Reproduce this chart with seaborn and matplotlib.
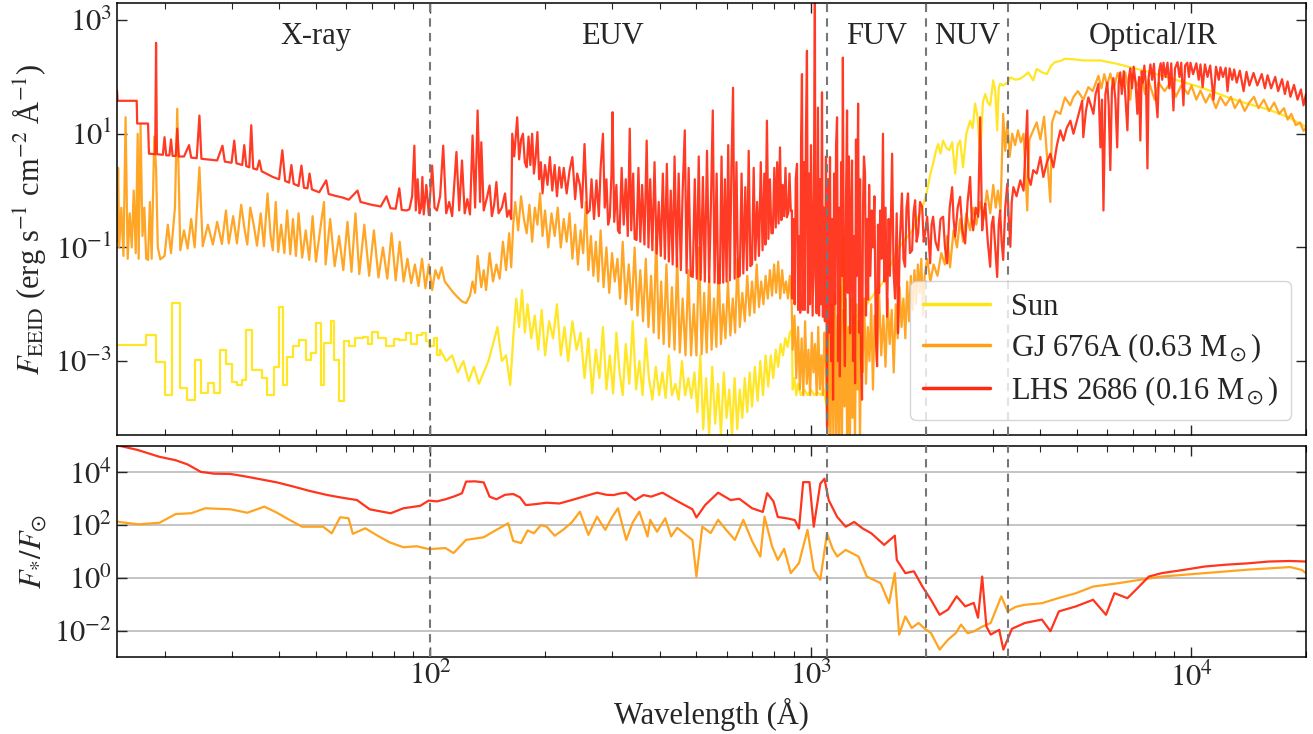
import numpy as np
import pandas as pd
import matplotlib
matplotlib.use("Agg")
import matplotlib.pyplot as plt
import seaborn as sns
from matplotlib.ticker import FixedLocator, NullLocator, FuncFormatter, LogLocator, NullFormatter

# ---------------- data (wavelength in Angstrom, log10 of flux) ----------------
# Sun: binned X-ray part (drawn as a histogram)
sun_xray = [
    (15.0, -2.71), (17.9, -2.54), (19.0, -3.01), (20.0, -3.59), (20.9, -1.98), (22.0, -3.47),
    (22.9, -3.68), (24.1, -2.98), (25.0, -3.56), (26.0, -3.39), (27.0, -3.56), (27.9, -2.80),
    (29.0, -3.06), (30.1, -3.36), (31.0, -3.42), (32.0, -3.33), (32.8, -2.45), (34.0, -3.15),
    (36.1, -3.30), (37.2, -3.59), (38.8, -3.10), (40.1, -2.04), (41.0, -3.42), (42.0, -2.92),
    (43.4, -2.74), (45.2, -2.63), (47.2, -2.98), (48.6, -2.85), (50.1, -2.33), (51.4, -3.42),
    (52.6, -2.68), (54.9, -2.30), (55.9, -2.98), (57.6, -3.71), (59.4, -2.65), (61.2, -2.74),
    (63.5, -2.60), (66.3, -2.57), (68.5, -2.70), (70.4, -2.48), (73.0, -2.60), (76.6, -2.74),
    (80.0, -2.62), (82.8, -2.63), (86.0, -2.50), (89.0, -2.70), (92.0, -2.55), (95.2, -2.51),
    (97.5, -2.65), (99.4, -2.74), (102, -2.60), (104, -2.90), (106, -2.8),
]
# Sun: rest of the spectrum
sun_rest = [
    (106, -2.8), (110, -3.0), (114, -2.9), (118, -3.2), (122, -3.0), (126, -3.35), (130, -3.1),
    (134, -3.4), (138, -3.2), (142, -3.0), (146, -2.7), (150, -2.4), (154, -3.0), (158, -2.9),
    (162, -3.42), (165, -2.6), (168, -1.9), (171, -2.4), (174, -1.75), (177, -2.5), (180, -2.0),
    (184, -2.6), (188, -2.2), (192, -2.8), (196, -2.1), (200, -2.9), (205, -2.3), (210, -2.6),
    (215, -2.0), (220, -2.9), (225, -2.4), (230, -3.0), (236, -2.3), (242, -2.8), (248, -2.5),
    (254, -3.3), (260, -2.6), (266, -3.57), (272, -2.8), (278, -3.3), (284, -2.4), (290, -3.5),
    (296, -2.9), (302, -3.57), (308, -2.5), (314, -3.2), (320, -3.6), (326, -2.7), (333, -3.4),
    (340, -2.3), (347, -3.5), (354, -3.0), (361, -3.6), (368, -2.6), (375, -3.3), (383, -3.68),
    (391, -3.1), (399, -3.6), (407, -3.2), (415, -3.65), (423, -2.9), (431, -3.6), (440, -3.4),
    (449, -3.68), (458, -3.0), (467, -3.6), (476, -3.3), (485, -3.65), (494, -3.2), (503, -3.9),
    (512, -2.9), (521, -4.2), (530, -3.3), (540, -4.3), (550, -3.1), (560, -4.1), (570, -3.4),
    (580, -4.3), (590, -3.2), (600, -4.0), (610, -3.5), (620, -4.3), (630, -3.3), (640, -4.2),
    (650, -3.5), (660, -4.0), (670, -3.3), (680, -3.9), (690, -3.2), (700, -3.8), (712, -3.1),
    (724, -3.7), (736, -3.0), (748, -3.6), (760, -2.9), (772, -3.45), (784, -2.9), (796, -3.3),
    (808, -2.8), (820, -3.1), (832, -2.7), (844, -2.9), (856, -2.6), (868, -2.75), (880, -2.5),
    (891, -2.45), (895, -3.5), (905, -3.3), (915, -3.6), (925, -3.4), (940, -3.6), (960, -3.5),
    (980, -3.6), (1000, -3.5), (1020, -3.6), (1040, -3.55), (1060, -3.6), (1080, -3.5),
    (1100, -3.8), (1200, -2.5), (1216, -0.8), (1230, -2.5), (1400, -2.0), (1550, -1.6),
    (1700, -1.0), (1850, -0.7), (1977, -0.23), (2020, 0.0), (2060, 0.30), (2094, 0.47),
    (2130, 0.70), (2159, 0.82), (2190, 0.65), (2225, 0.88), (2270, 0.75), (2310, 0.71),
    (2350, 0.85), (2393, 0.30), (2430, 0.80), (2466, 0.88), (2510, 0.41), (2560, 1.00),
    (2620, 1.23), (2660, 1.10), (2700, 1.53), (2740, 1.30), (2784, 0.59), (2830, 1.55),
    (2871, 1.70), (2915, 1.55), (2958, 1.50), (3013, 1.94), (3050, 1.75), (3086, 1.06),
    (3115, 1.80), (3142, 1.88), (3200, 1.85), (3281, 1.90), (3342, 1.99), (3450, 1.95),
    (3549, 1.97), (3640, 2.02), (3725, 2.08), (3838, 1.94), (3920, 2.14), (4050, 2.08),
    (4170, 2.05), (4280, 2.20), (4380, 2.26), (4520, 2.28), (4652, 2.32), (4900, 2.31),
    (5196, 2.29), (5764, 2.29), (6380, 2.23), (6906, 2.17), (7600, 2.10), (8400, 2.02),
    (9300, 1.93), (10300, 1.84), (11400, 1.74), (12700, 1.62), (14000, 1.53), (15500, 1.45),
    (16800, 1.37), (18000, 1.29), (19000, 1.20), (20000, 1.12),
]

gj_top = [
    (15.0, -0.90), (15.1, 0.40), (15.2, -1.0), (15.4, -0.3), (15.6, -1.15), (15.8, 1.29),
    (16.0, -1.2), (16.2, -0.4), (16.4, -1.0), (16.6, 0.0), (16.8, -1.1), (17.0, 1.0),
    (17.1, -1.2), (17.3, 1.15), (17.5, -0.8), (17.7, -0.3), (17.9, -1.2), (18.1, -1.22),
    (18.3, -0.2), (18.5, -1.2), (18.8, 0.95), (19.0, 0.40), (19.2, -1.0), (19.5, -1.21),
    (20.0, -1.15), (20.4, -0.6), (20.8, -1.1), (21.3, -0.3), (21.6, 1.44), (22.0, -1.05),
    (22.5, -0.7), (23.0, -1.02), (23.5, -0.5), (24.0, -1.0), (24.7, 0.41), (25.2, -0.98),
    (26.0, -0.6), (26.8, -0.95), (27.5, -0.55), (28.3, -0.94), (29.0, -0.35), (29.5, -0.93),
    (30.3, -0.45), (31.0, -0.93), (31.8, -0.25), (32.5, -0.7), (33.0, -0.95), (33.6, -0.3),
    (34.3, -0.6), (35.0, -0.97), (35.8, -0.4), (36.5, -0.98), (37.3, -0.05), (38.0, -0.8),
    (38.5, -1.05), (39.2, -0.2), (39.8, -1.08), (40.5, -0.6), (41.3, -1.1), (42.0, -0.35),
    (42.8, -1.12), (43.5, -0.5), (44.3, -1.15), (45.0, -0.4), (46.0, -1.18), (47.0, -0.7),
    (48.0, -1.22), (49.0, -0.45), (50.0, -1.25), (51.5, -0.6), (52.5, -0.2), (53.0, -1.30),
    (54.5, -0.5), (56.0, -1.33), (57.5, -0.8), (59.0, -1.40), (60.5, -0.55), (62.0, -1.43),
    (63.5, -0.4), (65.0, -1.47), (67.0, -0.6), (69.0, -1.5), (71.0, -0.7), (73.0, -1.53),
    (75.0, -1.0), (77.0, -1.55), (79.0, -0.75), (81.0, -1.58), (83.0, -0.9), (85.0, -1.6),
    (87.0, -1.2), (89.0, -1.63), (91.0, -1.3), (93.0, -1.68), (95.0, -1.2), (97.0, -1.72),
    (99.0, -1.3), (101.0, -1.75), (103, -1.40), (105, -1.55), (107, -1.35), (109, -1.60),
    (112, -1.70), (115, -1.80), (118, -1.88), (121, -1.95), (124, -1.98), (127, -1.85),
    (129, -1.60), (131, -1.80), (133, -1.15), (136, -1.70), (138, -1.40), (140, -1.75),
    (143, -1.10), (146, -1.6), (149, -1.3), (152, -1.55), (155, -0.9), (158, -1.4),
    (161, -0.75), (163, -1.35), (165, -0.6), (167, -0.2), (170, -0.7), (173, -0.1),
    (176, -0.5), (179, -0.75), (182, -0.25), (185, -0.9), (188, -0.3), (191, -0.6),
    (194, -0.05), (197, -0.8), (200, -0.35), (204, -1.0), (208, -0.4), (212, -0.8),
    (216, -0.3), (220, -1.0), (224, -0.5), (228, -0.9), (232, -0.4), (236, -1.2), (240, -0.6),
    (244, -1.3), (248, -0.7), (252, -1.1), (256, -0.2), (260, -1.4), (264, -0.8), (268, -1.5),
    (272, -0.9), (276, -1.6), (280, -0.7), (285, -1.7), (290, -1.0), (295, -1.8), (300, -1.1),
    (305, -1.6), (310, -1.2), (315, -1.9), (320, -0.9), (326, -2.0), (332, -1.3), (338, -2.1),
    (344, -1.0), (350, -2.2), (356, -1.4), (362, -2.3), (368, -1.2), (374, -2.4), (380, -1.5),
    (386, -2.5), (392, -0.8), (398, -2.6), (404, -1.6), (410, -2.7), (417, -1.3), (424, -2.75),
    (431, -1.7), (438, -2.8), (445, -1.2), (452, -2.85), (460, -1.9), (468, -2.9), (476, -1.4),
    (484, -2.9), (492, -2.0), (500, -2.9), (508, -1.0), (516, -2.88), (524, -1.8), (532, -2.85),
    (540, -1.5), (548, -2.8), (556, -1.9), (564, -2.75), (572, -1.3), (580, -2.7), (588, -2.0),
    (596, -2.6), (605, -1.6), (614, -2.55), (623, -1.9), (632, -2.5), (641, -1.2), (650, -2.4),
    (660, -1.8), (670, -2.3), (680, -1.5), (690, -2.2), (700, -1.6), (710, -2.15), (720, -1.3),
    (730, -2.05), (740, -1.6), (750, -2.0), (760, -1.5), (770, -1.9), (780, -1.4), (790, -1.85),
    (800, -1.3), (810, -1.8), (820, -1.25), (830, -1.9), (840, -1.4), (850, -1.8), (860, -1.6),
    (870, -1.9), (880, -1.5), (890, -2.0), (895, -2.8), (905, -2.2), (915, -3.3), (925, -2.4),
    (935, -3.5), (945, -2.6), (955, -3.6), (965, -2.3), (975, -3.4), (985, -2.8), (995, -3.6),
    (1005, -2.5), (1015, -3.2), (1025, -2.7), (1035, -3.6), (1045, -2.4), (1055, -3.5),
    (1065, -2.9), (1075, -3.6), (1085, -2.5), (1095, -3.0), (1105, -4.5), (1115, -2.3),
    (1125, -4.6), (1135, -2.0), (1145, -4.3), (1155, -1.8), (1165, -4.6), (1175, -2.2),
    (1185, -4.4), (1195, -1.7), (1205, -4.6), (1215, -2.1), (1225, -3.8), (1235, -1.9),
    (1245, -4.5), (1255, -2.4), (1265, -4.6), (1275, -1.9), (1285, -4.0), (1295, -2.2),
    (1305, -4.5), (1315, -2.0), (1325, -3.5), (1335, -2.3), (1345, -4.4), (1355, -2.6),
    (1365, -3.2), (1380, -1.9), (1395, -3.4), (1410, -2.4), (1425, -3.0), (1440, -2.0),
    (1455, -3.5), (1470, -2.2), (1490, -3.0), (1510, -1.8), (1530, -2.9), (1550, -2.2),
    (1570, -3.1), (1590, -1.9), (1610, -2.7), (1630, -2.1), (1650, -3.2), (1670, -2.0),
    (1690, -2.6), (1710, -1.7), (1730, -2.4), (1750, -1.9), (1770, -2.6), (1790, -1.6),
    (1810, -2.3), (1830, -1.5), (1850, -2.1), (1870, -1.4), (1890, -2.0), (1910, -1.3),
    (1930, -1.8), (1950, -1.2), (1970, -2.2), (1990, -1.5), (2020, -1.2), (2060, -1.6),
    (2100, -1.3), (2150, -1.5), (2200, -1.1), (2250, -1.3), (2280, -0.8), (2320, -1.35),
    (2370, -0.7), (2420, -1.0), (2466, -0.5), (2510, -0.9), (2560, -0.4), (2620, -0.7),
    (2669, -0.3), (2720, -0.6), (2784, -0.2), (2840, -0.5), (2900, 0.0), (2960, -0.4),
    (3013, 0.1), (3060, -0.3), (3100, 0.0), (3150, -0.35), (3200, 1.35), (3240, 0.7),
    (3281, 1.2), (3330, 0.6), (3380, 1.0), (3440, 0.8), (3500, 1.06), (3560, 0.85),
    (3620, 1.0), (3702, -0.35), (3750, 0.9), (3838, 1.06), (3920, 1.2), (4007, 0.9),
    (4100, 1.3), (4257, -0.2), (4300, 1.2), (4400, 1.4), (4522, 1.35), (4650, 1.64),
    (4800, 1.5), (4900, 1.65), (5030, 1.75), (5200, 1.6), (5358, 1.82), (5500, 1.75),
    (5695, 2.02), (5800, 1.8), (5900, 2.05), (6000, 1.85), (6120, 2.06), (6250, 1.8),
    (6400, 2.07), (6550, 1.85), (6700, 2.08), (6906, 1.6), (7000, 2.05), (7200, 1.85),
    (7400, 2.0), (7550, 1.7), (7700, 1.95), (8000, 1.6), (8200, 1.9), (8500, 1.75),
    (8800, 1.9), (9100, 1.65), (9400, 1.85), (9800, 1.7), (10000, 1.85), (10300, 1.6),
    (10560, 1.76), (10900, 1.55), (11200, 1.7), (11600, 1.45), (11900, 1.65), (12300, 1.5),
    (12700, 1.65), (13000, 1.45), (13400, 1.6), (13800, 1.4), (14200, 1.55), (14600, 1.65),
    (15000, 1.45), (15500, 1.6), (16000, 1.4), (16500, 1.55), (17000, 1.35), (17500, 1.45),
    (17890, 1.25), (18300, 1.35), (18800, 1.15), (19300, 1.2), (19700, 1.05), (20000, 1.1),
]

lhs_top = [
    (15.0, 1.76), (15.05, 1.58), (16.9, 1.58), (16.95, 1.18), (18.1, 1.18), (18.2, 0.65),
    (18.9, 0.64), (19.0, 2.60), (19.1, 0.64), (19.8, 0.63), (20.0, 0.94), (20.2, 0.62),
    (20.6, 0.62), (20.8, 0.90), (21.0, 0.61), (21.4, 0.61), (21.6, 1.09), (21.8, 0.60),
    (22.5, 0.60), (23.2, 0.80), (23.5, 0.58), (24.3, 0.57), (24.7, 1.32), (25.0, 0.56),
    (27.5, 0.53), (28.4, 0.79), (28.8, 0.51), (30.0, 0.49), (30.5, 0.88), (30.9, 0.48),
    (32.0, 0.45), (32.4, 0.80), (32.8, 0.43), (33.4, 0.41), (33.8, 1.15), (34.2, 0.39),
    (35.0, 0.37), (35.5, 0.53), (36.0, 0.34), (38.5, 0.24), (40.0, 0.20), (40.8, 0.71),
    (41.5, 0.17), (42.5, 0.14), (43.1, 0.45), (43.7, 0.12), (45.0, 0.08), (45.8, 0.44),
    (46.5, 0.05), (47.5, 0.04), (48.1, 0.30), (48.8, 0.02), (51.0, -0.03), (53.2, 0.18),
    (54.0, -0.06), (56.0, -0.09), (58.6, -0.12), (61.0, -0.16), (64.3, 0.00), (65.5, -0.20),
    (70.0, -0.25), (74.0, -0.28), (76.6, -0.10), (78.5, -0.31), (81.0, -0.32), (82.8, 0.04),
    (84.0, -0.34), (86.5, -0.35), (88.0, -0.33), (89.5, -0.10), (90.7, 0.79), (91.5, -0.35),
    (92.5, 0.20), (93.6, -0.40), (94.5, -0.30), (95.2, 0.24), (96.0, -0.42), (97.5, 0.10),
    (99.0, -0.43), (101.0, 0.44), (102.5, -0.30), (104, -0.35), (106, -0.10), (108, 0.79),
    (110, -0.40), (112, -0.20), (114, -0.45), (117, 0.68), (119, -0.35), (121, 0.53),
    (123, -0.40), (125, -0.15), (127, -0.42), (129, 0.97), (131, -0.30), (133, 1.41),
    (135, -0.20), (136, 0.85), (138, -0.35), (141, -0.10), (143, 0.09), (145, -0.45),
    (147, -0.25), (149, 0.15), (151, -0.40), (154, -0.30), (157, -0.05), (159, -0.46),
    (161, -0.35), (163, -0.50), (164, 1.0), (166, 0.60), (169, 1.29), (171, 0.55), (173, 0.90),
    (175, 1.00), (177, 0.50), (179, 0.41), (181, 0.95), (183, 0.45), (185, 1.00), (187, 0.30),
    (189, 0.60), (191, 1.03), (193, 0.20), (195, 0.50), (197, -0.05), (200, 0.45), (203, 0.10),
    (206, 0.59), (209, 0.00), (212, 0.45), (215, -0.10), (218, 0.41), (221, 0.05), (224, 0.40),
    (228, -0.05), (232, 0.35), (236, 0.59), (240, -0.15), (243, 0.30), (247, 0.10), (250, -0.30),
    (254, 0.82), (258, -0.40), (262, -0.35), (265, 0.20), (269, -0.50), (273, 0.18), (277, -0.45),
    (280, 0.40), (284, 1.00), (287, -0.30), (290, 0.20), (293, -0.60), (296, -0.46), (299, 0.30),
    (301, 1.38), (304, -0.55), (308, 0.10), (311, -0.70), (314, -0.75), (318, 0.40), (322, -0.60),
    (326, 0.20), (330, -0.80), (334, 1.09), (337, -0.70), (341, 0.30), (344, -0.85), (348, -0.87),
    (352, 0.40), (356, -0.90), (360, 0.10), (365, -0.95), (370, 0.88), (374, -1.00), (378, 0.20),
    (383, -1.05), (388, 0.50), (393, -1.11), (398, -0.20), (403, -1.15), (408, 0.30), (413, -1.20),
    (418, 0.47), (423, -1.25), (428, 0.00), (433, -1.30), (438, 0.60), (444, -1.34), (449, 0.30),
    (455, -1.40), (460, 0.00), (466, 1.06), (471, -1.45), (477, 0.40), (483, -1.50), (489, -1.52),
    (495, 0.20), (501, -1.55), (507, 0.60), (513, -1.57), (520, 0.24), (526, -1.60), (533, 0.70),
    (540, -1.61), (546, -0.20), (552, 1.41), (558, -1.62), (565, 0.30), (570, -1.63), (576, -1.63),
    (582, 0.60), (588, -1.62), (594, 0.20), (600, -1.60), (606, 0.80), (612, -1.58), (618, 0.40),
    (624, 1.81), (630, -1.55), (637, 0.50), (643, -1.52), (650, -1.50), (657, 0.30), (664, -1.46),
    (672, 0.06), (679, -1.40), (686, 0.70), (693, -1.33), (700, -1.30), (707, 0.40), (714, -1.22),
    (722, -0.20), (730, -1.15), (738, 0.50), (746, -1.05), (754, 0.30), (759, -0.95), (766, 1.23),
    (773, -0.85), (780, 0.20), (787, -0.75), (794, -0.75), (801, 0.40), (808, -0.65), (815, 0.50),
    (822, -0.58), (829, 0.76), (836, -0.52), (843, 0.10), (850, -0.45), (857, 0.40), (864, -0.47),
    (871, -0.40), (878, 0.30), (885, -0.36), (891, -0.35), (894, -1.90), (900, -0.50), (906, -2.00),
    (912, 0.20), (919, 0.47), (925, -2.10), (931, -0.80), (937, -2.15), (942, 0.90), (947, 2.05),
    (952, -2.10), (958, 0.50), (964, -2.10), (970, 1.00), (976, 2.46), (982, -2.15), (988, 0.30),
    (994, -2.0), (1000, 0.80), (1010, -2.2), (1018, 0.0), (1024, 3.5), (1027, -1.5), (1035, -2.16),
    (1043, 1.46), (1050, -2.2), (1056, 0.2), (1062, -2.0), (1069, 1.73), (1075, -2.22),
    (1081, -0.3), (1088, -2.3), (1095, 0.60), (1102, -4.15), (1109, 0.20), (1115, -2.5),
    (1122, 0.59), (1130, -3.0), (1136, -0.5), (1143, -3.68), (1150, 0.3), (1157, -2.0),
    (1164, 0.8), (1171, 1.29), (1178, -3.0), (1185, -0.3), (1191, -3.27), (1200, 0.5),
    (1207, -1.5), (1213, 2.34), (1220, -2.0), (1228, -3.09), (1236, -0.2), (1244, 1.41),
    (1250, -1.8), (1258, 0.6), (1267, -2.51), (1275, -0.4), (1282, 0.53), (1290, -3.0),
    (1298, -0.8), (1306, -3.39), (1313, 0.9), (1320, -1.5), (1330, 1.53), (1338, -2.5),
    (1346, 0.2), (1354, -3.0), (1362, -3.68), (1370, -0.3), (1378, 0.6), (1387, 0.30),
    (1395, -2.2), (1404, -0.5), (1413, -1.92), (1422, 0.10), (1432, -1.5), (1445, -0.35),
    (1456, -1.0), (1468, -0.1), (1480, -2.5), (1492, -3.09), (1500, -0.6), (1510, -1.8),
    (1520, -0.35), (1533, -1.2), (1546, 1.0), (1558, -1.6), (1570, -0.3), (1585, -2.22),
    (1600, -0.5), (1612, -1.5), (1625, -0.2), (1634, 0.65), (1648, -1.4), (1663, -1.9),
    (1680, -0.4), (1694, -2.51), (1712, -0.9), (1734, -0.05), (1750, -1.2), (1767, -1.34),
    (1783, -0.3), (1799, -0.05), (1820, -1.1), (1844, -1.05), (1860, -0.4), (1878, -0.17),
    (1895, -0.9), (1913, -0.75), (1935, -0.2), (1960, -0.29), (1978, -0.9), (1995, -0.75),
    (2020, -0.46), (2040, -0.9), (2057, -1.28), (2075, -0.6), (2094, -0.46), (2125, -0.9),
    (2159, -1.05), (2190, -0.5), (2225, -0.46), (2250, -1.0), (2280, -1.28), (2315, -0.3),
    (2350, 0.06), (2370, -0.5), (2393, -0.81), (2430, -0.3), (2466, -0.11), (2500, -0.7),
    (2542, -0.93), (2580, -0.2), (2620, 0.24), (2645, -0.5), (2669, -0.70), (2710, -0.3),
    (2750, -0.46), (2784, 1.29), (2818, -0.70), (2845, -0.4), (2871, -0.23), (2915, -0.9),
    (2958, -1.34), (2985, -0.6), (3013, -0.46), (3050, -1.0), (3086, -1.52), (3115, -0.6),
    (3142, -0.35), (3170, -0.9), (3200, -1.22), (3240, -0.3), (3281, 0.12), (3310, -0.5),
    (3342, -0.99), (3370, -0.2), (3404, 0.06), (3470, -0.1), (3549, 0.18), (3620, 0.0),
    (3702, 1.41), (3725, 0.24), (3780, 0.1), (3838, 0.36), (3920, 0.3), (4007, 0.59),
    (4080, 0.24), (4170, 0.5), (4257, 0.65), (4337, 0.41), (4430, 0.8), (4522, 1.06),
    (4607, 0.88), (4700, 1.1), (4806, 1.23), (4896, 1.0), (5030, 1.3), (5161, 1.58),
    (5196, 0.94), (5280, 1.4), (5358, 1.64), (5440, 1.5), (5524, 1.35), (5600, 1.7),
    (5695, 1.88), (5764, 0.76), (5820, 1.6), (5871, -0.35), (5940, 1.7), (6008, 1.90),
    (6060, 1.5), (6120, 0.36), (6180, 1.8), (6234, 1.98), (6310, 1.6), (6380, 0.76),
    (6440, 1.9), (6500, 2.08), (6560, 1.7), (6640, 2.1), (6787, 1.06), (6850, 2.0),
    (6906, 2.15), (6980, 1.8), (7050, 2.18), (7130, 1.9), (7207, 1.35), (7280, 2.0),
    (7339, 0.88), (7400, 2.1), (7450, 1.9), (7520, 2.2), (7600, 1.8), (7661, 0.39),
    (7720, 2.0), (7801, 2.22), (7880, 1.95), (7970, 2.23), (8050, 1.7), (8143, 1.29),
    (8220, 2.1), (8300, 2.24), (8380, 1.95), (8442, 2.25), (8550, 2.0), (8650, 2.25),
    (8750, 1.8), (8850, 2.24), (8967, 1.41), (9050, 2.15), (9190, 2.26), (9300, 2.0),
    (9400, 2.25), (9525, 1.5), (9620, 2.2), (9750, 2.25), (9850, 2.0), (9940, 2.25),
    (10100, 2.05), (10300, 2.24), (10450, 1.95), (10560, 2.22), (10700, 1.82), (10850, 2.22),
    (11020, 2.0), (11200, 2.2), (11430, 1.6), (11600, 2.18), (11800, 1.95), (11920, 2.17),
    (12100, 2.0), (12300, 2.16), (12440, 1.75), (12600, 2.15), (12800, 1.95), (12950, 2.13),
    (13150, 1.9), (13400, 2.11), (13710, 1.75), (13950, 2.09), (14200, 1.85), (14560, 2.07),
    (14900, 1.85), (15300, 2.05), (15600, 1.8), (15850, 2.03), (16200, 1.8), (16600, 2.0),
    (16900, 1.75), (17300, 1.96), (17600, 1.7), (17890, 1.92), (18200, 1.65), (18600, 1.86),
    (19000, 1.6), (19400, 1.78), (19700, 1.5), (20000, 1.7),
]

gj_ratio = [
    (15.0, 2.13), (17.1, 2.03), (19.4, 2.09), (21.4, 2.42), (23.5, 2.45), (25.6, 2.64),
    (29.8, 2.60), (33.0, 2.47), (36.6, 2.70), (39.5, 2.47), (42.6, 2.20), (46.0, 1.94),
    (52.2, 1.94), (55.0, 1.69), (57.9, 2.30), (60.9, 2.26), (62.5, 1.67), (67.4, 1.88),
    (72.8, 1.59), (78.0, 1.35), (84.9, 1.16), (92.0, 1.20), (98.9, 1.09), (109.5, 1.13),
    (115, 0.94), (124, 1.44), (138, 1.54), (149, 1.82), (160, 2.07), (165, 1.40), (173, 1.32),
    (180, 1.80), (187, 1.69), (195, 2.00), (202, 1.94), (212, 1.60), (223, 1.82), (235, 2.10),
    (247, 2.51), (260, 1.63), (274, 2.32), (288, 1.82), (300, 2.30), (311, 2.64), (327, 1.44),
    (340, 2.10), (354, 2.51), (372, 1.57), (378, 2.20), (394, 1.75), (414, 2.26), (429, 1.57),
    (445, 1.90), (464, 1.69), (488, 1.44), (500, 0.05), (518, 1.94), (545, 1.70), (570, 2.20),
    (600, 1.80), (631, 1.44), (664, 2.20), (700, 1.40), (736, 0.81), (755, 2.32), (790, 1.20),
    (818, 0.68), (850, 1.10), (885, 0.18), (930, 0.56), (979, 1.82), (1017, 0.31), (1058, -0.07),
    (1102, 1.69), (1140, 1.10), (1172, 0.81), (1234, 1.06), (1333, 0.81), (1402, 0.05),
    (1524, -0.20), (1604, -0.96), (1661, 0.18), (1705, -2.15), (1770, -1.46), (1840, -1.90),
    (1917, -1.71), (2000, -1.95), (2067, -2.09), (2178, -2.72), (2293, -2.34), (2400, -2.10),
    (2480, -1.77), (2580, -2.10), (2678, -2.03), (2820, -1.85), (2967, -1.71), (3164, -0.70),
    (3288, -1.27), (3450, -1.10), (3649, -1.02), (4045, -0.96), (4483, -0.76), (4972, -0.58),
    (5513, -0.33), (6438, -0.20), (7348, -0.07), (8355, 0.05), (10830, 0.18), (14030, 0.31),
    (18180, 0.41), (19500, 0.30), (20000, 0.18),
]

lhs_ratio = [
    (15.0, 5.03), (17.0, 4.85), (19.4, 4.59), (21.4, 4.46), (23.0, 4.30), (24.9, 4.02),
    (27.0, 3.95), (29.8, 3.94), (32.5, 3.85), (35.7, 3.74), (39.5, 3.62), (43.7, 3.46),
    (48.0, 3.30), (53.6, 3.14), (58.0, 3.05), (64.1, 2.95), (69.2, 2.60), (74.0, 2.52),
    (78.6, 2.45), (84.9, 2.64), (93.9, 2.73), (98.9, 2.93), (104, 2.90), (109.5, 2.98),
    (116, 3.10), (121, 3.21), (124, 3.65), (131, 3.66), (138, 3.62), (143, 3.08), (149, 2.98),
    (157, 3.15), (165, 3.18), (172, 3.05), (178, 2.76), (190, 2.80), (202, 2.85), (218, 2.82),
    (235, 2.95), (255, 3.10), (274, 3.23), (290, 3.15), (303, 3.14), (315, 3.20), (327, 3.23),
    (345, 2.95), (363, 3.14), (380, 3.08), (407, 3.23), (440, 2.95), (488, 2.60), (500, 2.29),
    (527, 2.76), (570, 3.23), (615, 2.95), (648, 3.00), (700, 2.64), (747, 2.50), (767, 3.21),
    (797, 2.90), (818, 2.31), (870, 2.25), (907, 2.19), (930, 1.87), (954, 3.63), (991, 3.63),
    (1017, 1.94), (1058, 3.57), (1085, 3.76), (1113, 2.95), (1172, 2.31), (1234, 1.94),
    (1299, 2.12), (1368, 1.87), (1441, 1.69), (1557, 1.25), (1661, 1.60), (1681, 0.68),
    (1770, 0.18), (1864, 0.25), (1963, -0.33), (2067, -0.83), (2178, -1.40), (2293, -1.20),
    (2415, -0.70), (2543, -1.08), (2678, -0.95), (2748, -1.51), (2818, 0.05), (2891, -1.84),
    (2967, -2.15), (3124, -1.97), (3204, -2.72), (3374, -1.93), (3649, -1.71), (4045, -1.58),
    (4259, -2.02), (4483, -1.27), (4972, -1.08), (5513, -0.83), (5961, -1.40), (6275, -0.58),
    (6786, -0.77), (7146, -0.45), (7727, 0.05), (8355, 0.18), (9512, 0.30), (10830, 0.43),
    (12330, 0.50), (14030, 0.55), (15970, 0.62), (18180, 0.64), (20000, 0.62),
]

band_edges = [100, 1100, 2000, 3300]
band_names = ["X-ray", "EUV", "FUV", "NUV", "Optical/IR"]
band_label_pos = [50, 300, 1490, 2570, 7950]

series_names = ["Sun", r"GJ 676A (0.63 M$_\odot$)", r"LHS 2686 (0.16 M$_\odot$)"]
series_colors = ["#FFE414", "#FF9F14", "#FF2A12"]


def to_frame(pairs):
    w, lf = zip(*pairs)
    return pd.DataFrame({"wave": np.array(w, float), "flux": 10.0 ** np.array(lf, float)})


# ---------------- style ----------------
sns.set_style("ticks")
plt.rcParams["font.family"] = ["Liberation Serif", "DejaVu Serif"]
plt.rcParams["mathtext.fontset"] = "stix"
plt.rcParams["font.size"] = 22
plt.rcParams["axes.linewidth"] = 1.1
plt.rcParams["axes.edgecolor"] = "black"

W, H = 1313, 734
fig = plt.figure(figsize=(W / 100, H / 100), dpi=100)
left, right = 117 / W, 1306 / W
ax1 = fig.add_axes([left, 1 - 435 / H, right - left, (435 - 3) / H])
ax2 = fig.add_axes([left, 1 - 657 / H, right - left, (657 - 446) / H], sharex=ax1)

lw = 1.6
sns.lineplot(data=to_frame(sun_xray), x="wave", y="flux", ax=ax1, sort=False, estimator=None,
             color=series_colors[0], lw=lw, alpha=0.92, drawstyle="steps-post", legend=False)
sns.lineplot(data=to_frame(sun_rest), x="wave", y="flux", ax=ax1, sort=False, estimator=None,
             color=series_colors[0], lw=lw, alpha=0.92, label=series_names[0])
for pairs, name, col in zip([gj_top, lhs_top], series_names[1:], series_colors[1:]):
    sns.lineplot(data=to_frame(pairs), x="wave", y="flux", ax=ax1, sort=False,
                 estimator=None, color=col, lw=lw, alpha=0.92, label=name)

for pairs, col in zip([gj_ratio, lhs_ratio], series_colors[1:]):
    sns.lineplot(data=to_frame(pairs), x="wave", y="flux", ax=ax2, sort=False,
                 estimator=None, color=col, lw=lw, alpha=0.95, legend=False)

for ax in (ax1, ax2):
    ax.set_xscale("log")
    ax.set_yscale("log")
    for e in band_edges:
        ax.axvline(e, color="#777777", ls=(0, (4, 3)), lw=1.5, zorder=5)
    ax.tick_params(which="both", direction="in", top=True, right=True)
    ax.tick_params(which="major", length=7, width=1.0)
    ax.tick_params(which="minor", length=4, width=0.8)
    ax.set_xlim(15, 2e4)
    ax.set_xlabel("")
    ax.set_ylabel("")

pow_fmt = FuncFormatter(lambda v, p: r"$10^{%d}$" % int(round(np.log10(v))))

ax1.set_ylim(5e-5, 2e3)
ax1.yaxis.set_major_locator(FixedLocator([1e-3, 1e-1, 1e1, 1e3]))
ax1.yaxis.set_minor_locator(NullLocator())
ax1.yaxis.set_major_formatter(pow_fmt)
ax1.tick_params(axis="x", which="both", labelbottom=False)

ax2.set_ylim(1e-3, 1e5)
ax2.yaxis.set_major_locator(FixedLocator([1e-2, 1e0, 1e2, 1e4]))
ax2.yaxis.set_minor_locator(NullLocator())
ax2.yaxis.set_major_formatter(pow_fmt)
ax2.yaxis.grid(True, color="#c4c4c4", lw=1.4)
ax2.set_axisbelow(True)

ax2.xaxis.set_major_locator(FixedLocator([1e2, 1e3, 1e4]))
ax2.xaxis.set_major_formatter(pow_fmt)
ax2.xaxis.set_minor_locator(LogLocator(base=10, subs=np.arange(2, 10)))
ax2.xaxis.set_minor_formatter(NullFormatter())

for name, pos in zip(band_names, band_label_pos):
    ax1.text(pos, 0.905, name, transform=ax1.get_xaxis_transform(), ha="center",
             va="baseline", fontsize=22)

ax1.set_ylabel(r"$F_{\rm EEID}$ (erg s$^{-1}$ cm$^{-2}$ Å$^{-1}$)")
ax2.set_ylabel(r"$F_{*}/F_{\odot}$")
ax2.set_xlabel("Wavelength (Å)")
ax1.yaxis.set_label_coords(-0.058, 0.5)
ax2.yaxis.set_label_coords(-0.058, 0.5)

leg = ax1.legend(loc="lower right", fontsize=22, frameon=True, fancybox=True,
                 framealpha=0.8, edgecolor="#cccccc", handlelength=2.2,
                 borderaxespad=0.5, labelspacing=0.3, handletextpad=0.7)
for h in leg.get_lines():
    h.set_linewidth(2.5)
    h.set_alpha(1)
leg.set_zorder(10)

fig.savefig("out.png", dpi=100)
